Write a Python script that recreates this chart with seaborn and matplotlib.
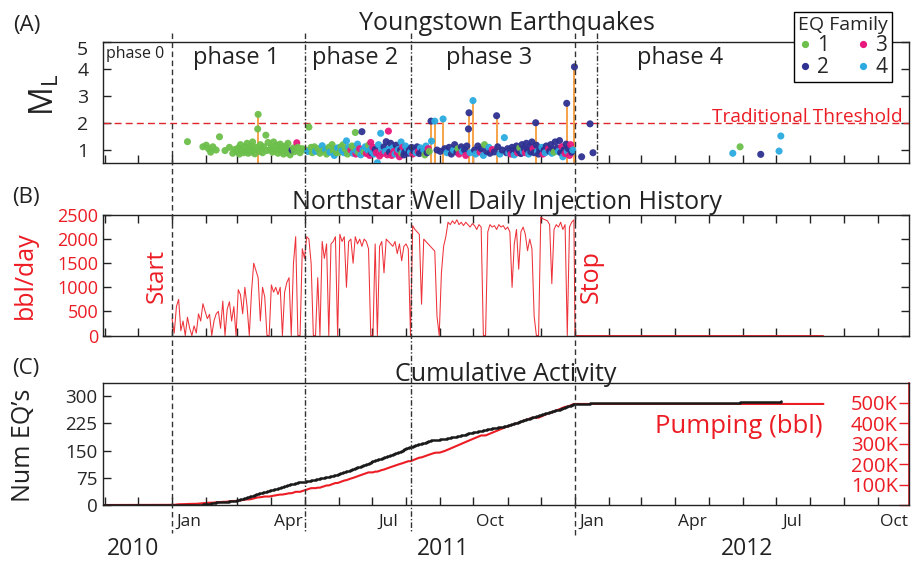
import numpy as np
import pandas as pd
import matplotlib
matplotlib.use("Agg")
import matplotlib.pyplot as plt
import matplotlib.dates as mdates
import matplotlib.transforms as mtransforms
from matplotlib.lines import Line2D
from matplotlib.ticker import FixedLocator, NullFormatter, FixedFormatter
import seaborn as sns

sns.set_theme(style="white")
plt.rcParams["font.family"] = ["Open Sans", "DejaVu Sans"]
plt.rcParams["mathtext.fontset"] = "custom"
plt.rcParams["mathtext.rm"] = "Open Sans"
plt.rcParams["mathtext.it"] = "Open Sans"

# ---------------------------------------------------------------- data
# Earthquake catalogue: days after 2011-01-01, local magnitude, family id
eq_day = [
    14, 28,
    31, 33, 35, 37, 40, 43, 48, 52, 55, 57,
    59, 60, 61, 62, 63, 65, 66, 67, 68, 69, 70, 71, 72, 73, 74, 75, 76, 77.6, 78,
    79, 80, 81, 82, 83, 85, 86, 87, 89,
    90, 91, 92, 93, 95, 96, 97, 98, 99, 100, 101, 102, 103, 104, 105, 106, 107,
    108.7, 110, 111, 113, 114, 116, 118,
    121, 123, 124, 126, 127, 129, 130, 132, 134, 136, 137, 139, 140, 142, 143,
    145, 146, 147, 148, 149, 150,
    151, 152, 153, 154, 155, 156, 157, 158, 159, 160, 161, 162, 163, 164, 165,
    166, 166.5, 167, 168, 169, 170, 171, 172, 173, 174, 175, 176, 177, 178,
    178.5, 179, 180, 180.5, 180.8,
    181, 182, 183, 184, 185, 186, 187, 188, 189, 190, 191, 192, 193, 194, 195,
    196, 196.5, 197, 198, 199, 200, 201, 202, 203, 204, 205, 206, 207, 207.5,
    208, 209, 209.5, 210, 210.5, 211, 211.5,
    212, 213, 214, 215, 216, 217, 218, 219, 220, 221, 222, 223, 224, 225, 226,
    228, 229, 230, 231, 232, 233, 234.6, 235, 238, 240,
    243, 245.5, 247, 249, 251, 253, 255, 256, 258, 259, 260, 262, 263, 265, 266,
    267, 268.5, 269, 270, 272.6,
    274, 275, 277, 279, 280, 282, 283, 285, 287, 288, 290, 292, 294, 295, 297,
    299, 301, 303,
    304, 305, 306, 307, 308, 309, 310, 311, 312, 313, 314, 315, 316, 317, 318,
    319, 320, 321, 322, 323, 324, 325, 326, 327, 328, 329.4, 330, 331, 332, 333,
    334, 335, 336, 337, 338, 339, 341, 342, 343, 344, 345, 346, 347, 349, 350,
    351, 352, 353, 354, 355, 356, 357, 357.5, 358, 359, 360, 361, 362, 363, 364.5,
    371, 378.6, 381.3, 507.9, 514.5, 533.2, 549.8, 551.4,
]
eq_mag = [
    1.31, 1.12,
    1.18, 1.05, 0.92, 1.12, 1.00, 1.49, 0.98, 1.10, 0.88, 1.02,
    0.95, 1.08, 0.85, 1.20, 1.02, 0.90, 1.12, 0.97, 1.25, 0.88, 1.05, 1.15, 0.93,
    1.30, 1.00, 0.86, 1.10, 1.78, 2.32, 0.95, 1.20, 1.05, 0.90, 1.12, 1.55, 0.98,
    1.28, 1.02,
    1.10, 0.92, 1.30, 1.00, 1.18, 0.88, 1.05, 1.22, 0.95, 1.12, 0.85, 1.02, 1.15,
    0.90, 1.25, 1.00, 0.82, 1.00, 1.08, 0.94, 1.27, 1.10, 0.90, 1.05,
    1.00, 0.95, 1.85, 1.10, 0.90, 1.12, 0.95, 1.05, 0.88, 1.16, 0.98, 1.02, 0.85,
    1.10, 0.92, 1.20, 0.97, 0.80, 1.05, 0.90, 1.08,
    1.05, 0.92, 1.12, 0.98, 1.20, 0.90, 1.03, 1.34, 0.85, 1.10, 0.95, 1.00, 1.15,
    0.88, 1.08, 1.65, 0.85, 0.97, 1.22, 0.90, 1.05, 0.82, 1.68, 1.00, 0.93, 1.12,
    0.87, 1.02, 1.18, 0.95, 0.80, 1.28, 1.05, 0.90,
    0.95, 1.10, 0.85, 1.02, 0.90, 0.53, 1.20, 0.78, 1.62, 1.00, 0.88, 1.12, 0.95,
    1.31, 0.82, 1.70, 1.05, 0.92, 1.25, 0.80, 1.08, 0.95, 0.85, 1.18, 0.90, 1.02,
    0.75, 1.00, 1.30, 0.88, 1.10, 0.95, 0.82, 1.05, 0.92, 1.15,
    0.95, 1.05, 0.88, 1.00, 0.92, 1.10, 0.85, 0.98, 1.03, 0.90, 1.12, 0.95, 0.87,
    1.08, 0.93, 1.00, 0.82, 1.15, 0.90, 1.05, 0.95, 2.07, 1.33, 2.07, 1.00,
    0.95, 2.15, 1.05, 0.90, 1.10, 0.85, 1.00, 1.20, 0.92, 1.05, 0.85, 1.12, 0.95,
    1.00, 0.80, 1.15, 1.78, 2.38, 0.90, 2.83,
    1.00, 0.85, 1.15, 0.92, 1.05, 0.80, 1.20, 0.95, 1.10, 0.88, 1.02, 0.93, 2.27,
    1.12, 0.85, 1.00, 1.46, 0.90,
    1.05, 0.90, 1.00, 0.85, 1.10, 0.95, 0.82, 1.02, 1.15, 0.90, 0.98, 1.08, 0.87,
    1.20, 0.95, 1.05, 0.90, 1.25, 1.00, 0.85, 1.12, 0.93, 1.30, 1.05, 0.90, 2.01,
    1.18, 0.95, 0.85, 1.02,
    0.95, 1.10, 0.85, 1.00, 0.90, 1.15, 1.05, 0.95, 1.20, 0.88, 1.02, 0.92, 1.30,
    1.08, 0.95, 1.35, 0.90, 1.12, 0.75, 1.00, 0.87, 1.22, 2.73, 0.95, 1.05, 0.80,
    1.20, 0.92, 1.00, 4.08,
    0.75, 1.97, 0.90, 0.88, 1.12, 0.84, 0.96, 1.52,
]
eq_family = [
    1, 1,
    1, 1, 1, 1, 1, 1, 1, 1, 1, 1,
    1, 1, 1, 1, 1, 1, 1, 1, 1, 1, 1, 1, 1, 1, 1, 1, 1, 1, 1, 1, 1, 1, 1, 1, 1,
    1, 1, 1,
    1, 1, 1, 1, 1, 1, 1, 1, 1, 1, 1, 1, 1, 1, 1, 1, 1, 2, 1, 1, 3, 1, 1, 1,
    1, 4, 1, 1, 1, 1, 4, 1, 1, 4, 1, 4, 1, 1, 4, 1, 1, 4, 1, 1, 4,
    4, 1, 1, 4, 1, 4, 1, 4, 1, 4, 1, 3, 1, 4, 1, 1, 3, 4, 4, 1, 3, 4, 2, 4, 1,
    4, 3, 4, 1, 4, 3, 3, 4, 2,
    4, 3, 4, 2, 3, 4, 4, 3, 4, 4, 3, 2, 4, 2, 3, 3, 4, 2, 2, 3, 4, 3, 4, 2, 3,
    4, 3, 2, 4, 1, 3, 4, 2, 3, 2, 4,
    2, 4, 2, 2, 4, 2, 3, 2, 2, 4, 2, 3, 2, 4, 2, 4, 1, 4, 2, 3, 1, 2, 4, 4, 2,
    2, 4, 2, 4, 2, 2, 4, 2, 2, 1, 3, 2, 4, 2, 3, 2, 2, 2, 4, 4,
    2, 4, 2, 3, 2, 4, 1, 2, 4, 2, 3, 2, 2, 2, 4, 2, 4, 2,
    2, 4, 2, 3, 2, 2, 4, 2, 2, 3, 2, 1, 2, 2, 4, 2, 3, 2, 2, 4, 2, 2, 2, 3, 2,
    2, 2, 4, 2, 2,
    2, 4, 3, 2, 4, 2, 3, 2, 2, 4, 2, 1, 2, 2, 4, 2, 2, 3, 4, 2, 3, 2, 2, 4, 2,
    3, 3, 2, 4, 2,
    2, 2, 2, 4, 1, 2, 4, 4,
]

# Northstar 1 injected volume (bbl/day), every other day from 2011-01-01
inj_bbl = [
    350, 50, 600, 750, 100, 300, 0, 380, 150, 0,
    200, 50, 450, 300, 660, 500, 350, 440, 0, 300,
    450, 500, 150, 715, 0, 550, 700, 300, 600, 0,
    950, 850, 450, 1000, 600, 0, 900, 1500, 1350, 1200,
    300, 1000, 800, 0, 0, 1050, 900, 1000, 850, 1000,
    0, 900, 1100, 1200, 0, 1500, 2050, 0, 0, 1800,
    1600, 2050, 2000, 1500, 0, 0, 1200, 0, 1950, 1600,
    1900, 0, 1900, 1950, 2050, 0, 2100, 1950, 2050, 1000,
    1950, 2000, 1500, 2050, 1900, 2000, 1850, 2000, 1950, 1800,
    0, 0, 1900, 0, 1850, 1950, 1300, 2000, 1950, 1900,
    1850, 1950, 1700, 1900, 1550, 1850, 1900, 1800, 0, 2280,
    2200, 2150, 2100, 650, 2000, 1950, 1900, 1850, 1800, 1750,
    400, 0, 1300, 1850, 2050, 2350, 2300, 2380, 2320, 2400,
    2300, 2350, 2280, 2350, 2300, 2250, 2320, 2280, 2200, 2300,
    2250, 0, 0, 2150, 2300, 2250, 2280, 2200, 2300, 2250,
    2280, 2200, 2250, 2150, 1000, 1900, 2200, 1375, 2150, 2250,
    2100, 1760, 2000, 1800, 400, 0, 0, 2450, 2420, 2400,
    2380, 2300, 1076, 2200, 2300, 2250, 2350, 2200, 2300, 0,
    2250, 2350, 2400,
]
# after shut-in the well reports zero until the end of the record
shut_in_day = [365, 590]
shut_in_bbl = [0, 0]

family_names = ["1", "2", "3", "4"]
family_colors = {"1": "#6dbf4b", "2": "#2e3192", "3": "#e8197d", "4": "#2aaae1"}

# phase boundaries (days after 2011-01-01)
phase_bounds = {"start": 0, "p2": 120.5, "p3": 216.5, "stop": 364.8, "p4": 385}

RED = "#ec1c24"
ORANGE = "#f6a34a"
SPINE = "#222222"
ORIGIN = pd.Timestamp("2011-01-01")


def to_date(days):
    return ORIGIN + pd.to_timedelta(np.asarray(days, dtype=float), unit="D")


# ---------------------------------------------------------------- figure
W, H = 916, 567
fig = plt.figure(figsize=(W / 100, H / 100), dpi=100)


def box(left, top, right, bottom):
    return [left / W, 1 - bottom / H, (right - left) / W, (bottom - top) / H]


def px(x, y):
    return x / W, 1 - y / H


axA = fig.add_axes(box(103, 42, 909, 163))
axB = fig.add_axes(box(103, 215, 909, 336), sharex=axA)
axC = fig.add_axes(box(103, 383, 909, 505), sharex=axA)

x_lo = ORIGIN - pd.Timedelta(days=62.5)
x_hi = ORIGIN + pd.Timedelta(days=667.5)

# ---- (A) magnitudes
events = pd.DataFrame({
    "date": to_date(eq_day),
    "mag": eq_mag,
    "family": [str(f) for f in eq_family],
})
big = events[events["mag"] >= 2.0]
axA.vlines(big["date"], 0.52, big["mag"], color=ORANGE, lw=1.4, zorder=2)
axA.axhline(2.0, color="#e0262c", lw=1.0, ls=(0, (5, 3)), zorder=1)
sns.scatterplot(data=events, x="date", y="mag", hue="family",
                palette=family_colors, hue_order=family_names, s=26,
                edgecolor="none", linewidth=0, alpha=0.95, legend=False,
                ax=axA, zorder=3)
axA.set_ylim(0.52, 5.0)
axA.set_yticks([1, 2, 3, 4, 5])
axA.set_yticklabels(["1", "2", "3", "4", ""])

handles = [Line2D([], [], ls="none", marker="o", ms=5.2, mfc=family_colors[k],
                  mec="none", label=k) for k in family_names]
leg = axA.legend(handles=handles, ncol=2, title="EQ Family", loc="upper right",
                 bbox_to_anchor=((892 - 103) / 806, (163 - 12) / 121),
                 frameon=True, fancybox=False, edgecolor="black",
                 fontsize=15, title_fontsize=14, handlelength=0.6,
                 handletextpad=0.3, columnspacing=1.3, borderpad=0.2,
                 labelspacing=0.05, borderaxespad=0)
leg.get_frame().set_linewidth(1.0)
leg.get_frame().set_alpha(1)

# ---- (B) daily injection
inj_days = np.arange(0, 2 * len(inj_bbl), 2)
inj = pd.DataFrame({
    "date": to_date(list(inj_days) + shut_in_day),
    "bbl": inj_bbl + shut_in_bbl,
})
sns.lineplot(data=inj, x="date", y="bbl", color=RED, lw=0.75, alpha=0.9,
             estimator=None, sort=False, ax=axB)
axB.set_ylim(-10, 2500)
axB.set_yticks([0, 500, 1000, 1500, 2000, 2500])

# ---- (C) cumulative activity
ev_sorted = np.sort(np.asarray(eq_day, dtype=float))
cum_eq = pd.DataFrame({
    "date": [x_lo] + list(to_date(ev_sorted)),
    "count": [0] + list(np.arange(1, len(ev_sorted) + 1)),
})
step_w = np.diff(np.concatenate([[-2.0], inj_days]))
cum_vol = np.cumsum(np.asarray(inj_bbl, dtype=float) * step_w)
cum_inj = pd.DataFrame({
    "date": [x_lo] + list(to_date(inj_days)) + list(to_date(shut_in_day)),
    "vol": [0.0] + list(cum_vol) + [cum_vol[-1]] * len(shut_in_day),
})

ax2 = axC.twinx()
ax2.set_zorder(axC.get_zorder() - 1)
axC.patch.set_visible(False)
sns.lineplot(data=cum_inj, x="date", y="vol", color=RED, lw=1.5,
             estimator=None, sort=False, ax=ax2)
sns.lineplot(data=cum_eq, x="date", y="count", color="#1a1a1a", lw=1.8,
             estimator=None, sort=False, drawstyle="steps-post", ax=axC)
axC.set_ylim(0, 336)
axC.set_yticks([0, 75, 150, 225, 300])
ax2.set_ylim(0, 598000)
ax2.set_yticks([0, 100000, 200000, 300000, 400000, 500000])
ax2.set_yticklabels(["", "100K", "200K", "300K", "400K", "500K"])

# ---- shared time axis
axA.set_xlim(x_lo, x_hi)
month_starts = mdates.date2num(pd.date_range("2010-11-01", "2012-11-01", freq="MS"))
quarter_mid = mdates.date2num(pd.to_datetime([
    "2011-01-16", "2011-04-16", "2011-07-16", "2011-10-16",
    "2012-01-16", "2012-04-16", "2012-07-16", "2012-10-16"]))
axC.xaxis.set_major_locator(FixedLocator(month_starts))
axC.xaxis.set_major_formatter(NullFormatter())
axC.xaxis.set_minor_locator(FixedLocator(quarter_mid))
axC.xaxis.set_minor_formatter(FixedFormatter(["Jan", "Apr", "Jul", "Oct"] * 2))

for ax in (axA, axB, axC, ax2):
    ax.set_xlabel("")
    ax.set_ylabel("")
    ax.grid(False)

for ax in (axA, axB, axC):
    for s in ax.spines.values():
        s.set_color(SPINE)
        s.set_linewidth(1.0)
    ax.tick_params(axis="x", which="minor", length=0)

axA.tick_params(axis="x", which="major", direction="in", length=6, width=1,
                color=SPINE, bottom=True, top=False)
axA.tick_params(axis="x", which="both", labelbottom=False)
axA.tick_params(axis="y", direction="in", length=6, width=1, color=SPINE,
                left=True, right=True, labelsize=14, pad=10.5)

axB.tick_params(axis="x", which="major", direction="in", length=6, width=1,
                color=SPINE, bottom=True, top=True)
axB.tick_params(axis="x", which="both", labelbottom=False)
axB.tick_params(axis="y", direction="in", length=6, width=1, color=SPINE,
                left=True, right=True, labelsize=13, labelcolor=RED, pad=3.5)

axC.tick_params(axis="x", which="major", direction="in", length=6, width=1,
                color=SPINE, bottom=True, top=False)
axC.tick_params(axis="x", which="minor", labelsize=12.5, pad=6.5,
                labelcolor="#222222")
axC.tick_params(axis="y", direction="in", length=6, width=1, color=SPINE,
                left=True, right=False, labelsize=13.5, pad=4)

for side in ("left", "top", "bottom"):
    ax2.spines[side].set_visible(False)
ax2.spines["right"].set_color(RED)
ax2.spines["right"].set_linewidth(1.2)
ax2.tick_params(axis="y", direction="in", length=7, width=1, colors=RED,
                right=True, left=False, labelsize=14.5, pad=-8)
plt.setp(ax2.get_yticklabels(), ha="right")

# ---- phase boundaries drawn through all panels
trans = mtransforms.blended_transform_factory(axA.transData, fig.transFigure)
dashed = (0, (4, 2.5))
dashdot = (0, (4, 1.5, 1, 1.5))
boundary_lines = [
    (phase_bounds["start"], dashed, 533),
    (phase_bounds["p2"], dashdot, 533),
    (phase_bounds["p3"], dashdot, 533),
    (phase_bounds["stop"], dashed, 535),
    (phase_bounds["p4"], dashdot, 168),
]
for day, ls, y_end in boundary_lines:
    xd = mdates.date2num(ORIGIN + pd.Timedelta(days=day))
    fig.add_artist(Line2D([xd, xd], [1 - 33 / H, 1 - y_end / H], transform=trans,
                          color="#333333", lw=1.0, ls=ls, zorder=5))

# ---- text
fig.text(*px(13, 31), "(A)", fontsize=16, va="baseline", ha="left", color="#222")
fig.text(*px(12, 203), "(B)", fontsize=16, va="baseline", ha="left", color="#222")
fig.text(*px(12, 374), "(C)", fontsize=16, va="baseline", ha="left", color="#222")

fig.text(*px(507, 30), "Youngstown Earthquakes", fontsize=18, ha="center",
         va="baseline", color="#222")
fig.text(*px(507, 209), "Northstar Well Daily Injection History", fontsize=18,
         ha="center", va="baseline", color="#222")
fig.text(*px(506, 381), "Cumulative Activity", fontsize=18, ha="center",
         va="baseline", color="#222")

fig.text(*px(88, 50), "5", fontsize=14, ha="right", va="center", color="#222")
fig.text(*px(45, 95), r"$\mathrm{M_L}$", fontsize=23, rotation=90,
         ha="center", va="center", color="#222")
fig.text(*px(25, 275), "bbl/day", fontsize=18, rotation=90, ha="center",
         va="center", color=RED)
fig.text(*px(23, 445), "Num EQ\u2019s", fontsize=18, rotation=90, ha="center",
         va="center", color="#222")

fig.text(*px(106, 57.5), "phase 0", fontsize=11.5, ha="left", va="baseline",
         color="#222")
for label, x0 in (("phase 1", 193), ("phase 2", 312), ("phase 3", 446),
                  ("phase 4", 637)):
    fig.text(*px(x0, 63.5), label, fontsize=17, ha="left", va="baseline",
             color="#222")

fig.text(*px(903, 121.5), "Traditional Threshold", fontsize=13.8, ha="right",
         va="baseline", color=RED)
fig.text(*px(157, 275.5), "Start", fontsize=17.5, rotation=90, ha="center",
         va="center", color=RED)
fig.text(*px(591, 276.5), "Stop", fontsize=18, rotation=90, ha="center",
         va="center", color=RED)
fig.text(*px(823, 433), "Pumping (bbl)", fontsize=18.5, ha="right",
         va="baseline", color=RED)

for label, x0 in (("2010", 133), ("2011", 443), ("2012", 747)):
    fig.text(*px(x0, 549), label, fontsize=16.5, ha="center", va="center",
             color="#222")

fig.savefig("out.png", dpi=100, facecolor="white")
